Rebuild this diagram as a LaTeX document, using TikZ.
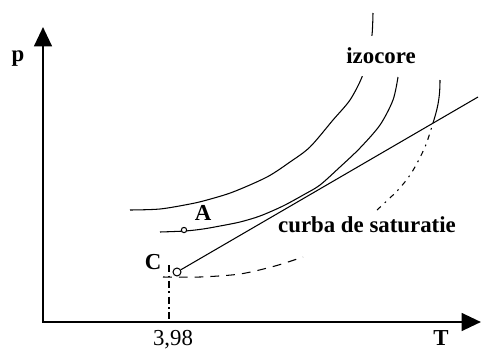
\documentclass[tikz,border=0pt]{standalone}
\usepackage{fontspec}
\setmainfont{Liberation Serif}
\usetikzlibrary{arrows.meta}

\tikzset{
  axa/.style={line width=1.5pt, {Triangle[length=11pt,width=10pt]}-{Triangle[length=11pt,width=10pt]}},
  izo/.style={line width=0.6pt},
  lbl/.style={font=\fontsize{13}{15}\selectfont\bfseries, inner sep=1pt},
  pct/.style={circle, draw, fill=white, line width=0.6pt, inner sep=0pt, minimum size=#1},
  pct/.default=3pt
}

\begin{document}
\begin{tikzpicture}[x=0.02cm, y=-0.02cm]
    \useasboundingbox (0,0) rectangle (484,349);
    % axele p si T
    \coordinate (O) at (43,322);
    \coordinate (ysus) at (43,27);
    \coordinate (xdr) at (481,322);
    \draw[axa] (ysus) -- (O) -- (xdr);
    \node[lbl] (p) at (18,59) {p};
    \node[lbl, anchor=base] (T) at (441,345) {T};
    \node[font=\fontsize{13}{15}\selectfont, anchor=base, inner sep=1pt] (v398) at (173,345) {3,98};
    % izocorele
    \draw[izo] plot[smooth] coordinates {(130,210) (160,209) (190,204) (207,200) (233,192) (267,177) (290,162) (310,147) (333,120) (350,100) (362,77) (368,55) (372,35) (373,13)};
    \draw[izo] plot[smooth] coordinates {(160,232) (185,231) (203,229) (220,226) (240,222) (260,216) (283,206) (305,194) (320,185) (340,167) (360,148) (380,125) (393,100) (398,77)};
    \coordinate (X) at (433,123);
    \draw[izo, dash pattern=on 5pt off 4pt] plot[smooth] coordinates {(163,277) (200,277) (240,274) (275,266) (303,257)};
    \draw[izo, dash pattern=on 3pt off 3pt on 1pt off 3pt] plot[smooth] coordinates {(377,210) (398,190) (412,172) (425,147) (X)};
    \draw[izo] (X) .. controls (437,110) and (440,100) .. (440,80);
    % punctul C coborat pe axa T
    \coordinate (Cj) at (169,265);
    \draw[izo, dash pattern=on 4pt off 2pt on 1pt off 2pt] (Cj) -- (Cj |- O);
    \node[pct=3pt] (A) at (184,230) {};
    \node[pct=4.5pt] (C) at (177,272) {};
    % curba de saturatie
    \coordinate (S) at (478,97);
    \draw[izo] (C) -- (S);
    \node[lbl, fill=white] (lA) at (203,213) {A};
    \node[lbl] (lC) at (153,262) {C};
    \node[lbl, fill=white, inner ysep=7pt] (lizo) at (381,56) {izocore};
    \node[lbl] (lsat) at (367,225) {curba de saturatie};
\end{tikzpicture}
\end{document}
